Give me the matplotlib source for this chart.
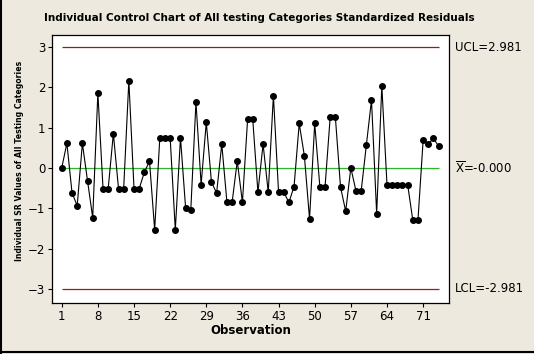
import numpy as np
import matplotlib
matplotlib.use("Agg")
import matplotlib.pyplot as plt
from matplotlib.lines import Line2D

# standardized residuals
sr = [0.00, 0.61, -0.62, -0.93, 0.61, -0.32, -1.23, 1.85, -0.51, -0.51,
      0.85, -0.51, -0.51, 2.16, -0.51, -0.51, -0.11, 0.17, -1.53, 0.75,
      0.75, 0.75, -1.53, 0.75, -1.00, -1.04, 1.63, -0.41, 1.13, -0.35,
      -0.62, 0.59, -0.85, -0.85, 0.17, -0.85, 1.20, 1.20, -0.60, 0.59,
      -0.60, 1.79, -0.60, -0.60, -0.85, -0.46, 1.10, 0.30, -1.26, 1.10,
      -0.47, -0.47, 1.26, 1.26, -0.47, -1.07, 0.00, -0.57, -0.57, 0.56,
      1.68, -1.13, 2.03, -0.41, -0.41, -0.41, -0.41, -0.41, -1.29, -1.29,
      0.68, 0.60, 0.73, 0.54]
ucl = 2.981
center = -0.000
lcl = -2.981
xticks = [1, 8, 15, 22, 29, 36, 43, 50, 57, 64, 71]
yticks = [-3, -2, -1, 0, 1, 2, 3]

obs = np.arange(1, len(sr) + 1)

bg = "#EDE9DF"
fig = plt.figure(figsize=(5.34, 3.54), dpi=100, facecolor=bg)
ax = fig.add_axes([0.098, 0.144, 0.743, 0.7585])
ax.set_facecolor("white")

ax.hlines([ucl, lcl], obs[0], obs[-1], color="#A01818", lw=0.9)
ax.hlines(center, obs[0], obs[-1], color="#2DB52D", lw=0.9)
ax.plot(obs, sr, color="black", lw=0.8, marker="o", ms=4.0, mfc="black", mec="black")

ax.set_xlim(-0.82, 76.03)
ax.set_ylim(-3.34, 3.30)
ax.set_xticks(xticks)
ax.set_yticks(yticks)
ax.tick_params(labelsize=8.5, length=3, width=0.8, colors="black", pad=2)
for s in ax.spines.values():
    s.set_linewidth(0.9)

fig.text(0.485, 0.948, "Individual Control Chart of All testing Categories Standardized Residuals",
         ha="center", va="center", fontsize=7.5, fontweight="bold")
ax.set_xlabel("Observation", fontsize=8.5, fontweight="bold", labelpad=1)
fig.text(0.037, 0.545, "Individual SR Values of All Testing Categories", rotation=90,
         ha="center", va="center", fontsize=5.6, fontweight="bold")

tr = ax.get_yaxis_transform()
ax.text(1.015, ucl, "UCL=%.3f" % ucl, transform=tr, va="center", ha="left", fontsize=8.5, clip_on=False)
ax.text(1.015, center, r"$\overline{\mathrm{X}}$=-0.000", transform=tr, va="center", ha="left", fontsize=8.5, clip_on=False)
ax.text(1.015, lcl, "LCL=%.3f" % lcl, transform=tr, va="center", ha="left", fontsize=8.5, clip_on=False)

# outer frame (left and bottom edges are dark in the original)
fig.add_artist(Line2D([0.002, 0.002], [0.0, 1.0], transform=fig.transFigure, color="black", lw=1.5))
fig.add_artist(Line2D([0.0, 1.0], [0.006, 0.006], transform=fig.transFigure, color="black", lw=1.5))

fig.savefig("out.png", dpi=100, facecolor=bg)
